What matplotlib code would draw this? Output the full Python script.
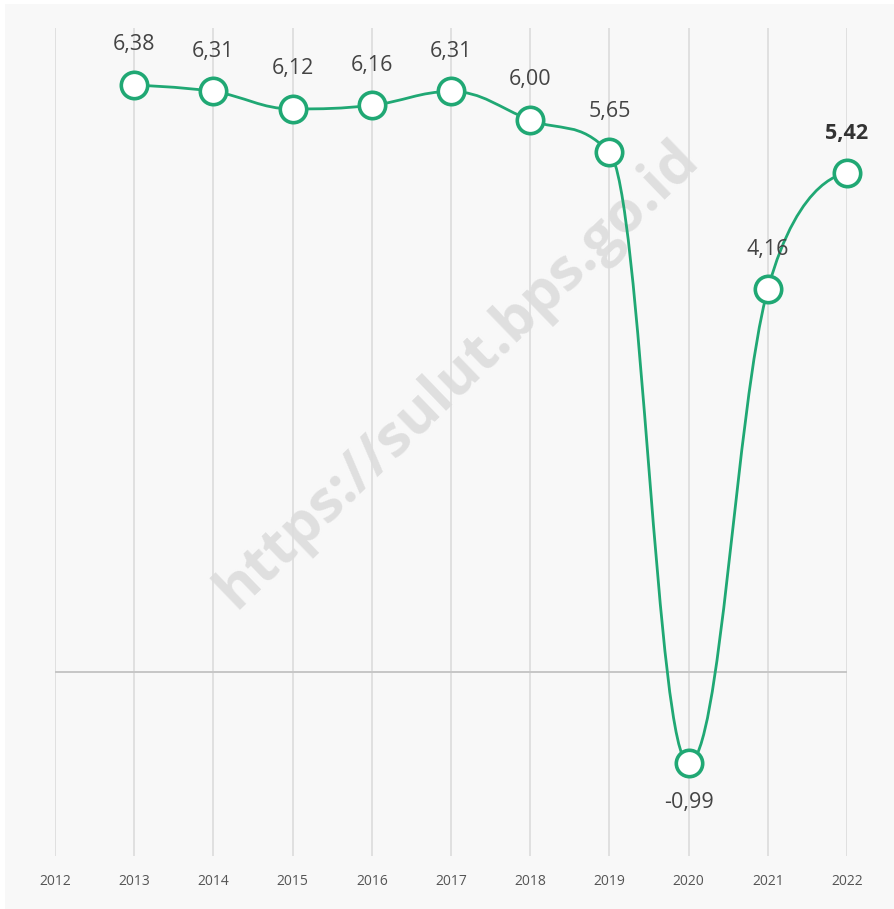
import numpy as np
import matplotlib
matplotlib.use("Agg")
import matplotlib.pyplot as plt
from matplotlib.patches import Rectangle, PathPatch
from matplotlib.path import Path

# Economic growth rate (%) by year
years = [2013, 2014, 2015, 2016, 2017, 2018, 2019, 2020, 2021, 2022]
growth = [6.38, 6.31, 6.12, 6.16, 6.31, 6.00, 5.65, -0.99, 4.16, 5.42]
tick_years = list(range(2012, 2023))
tick_labels = [str(y) for y in tick_years]
watermark = "https://sulut.bps.go.id"

GREEN = "#20a874"
plt.rcParams["font.family"] = ["Open Sans", "DejaVu Sans"]


def spline_path(x, y, smoothing=1.5):
    """Cubic Bezier spline with control points clamped to avoid false extremes."""
    n = len(x)
    denom = smoothing + 1
    right = [None] * n
    verts = [(x[0], y[0])]
    codes = [Path.MOVETO]
    for i in range(1, n):
        px, py = x[i], y[i]
        lx, ly = px, py
        if i < n - 1:
            ax_, ay_ = x[i - 1], y[i - 1]
            nx_, ny_ = x[i + 1], y[i + 1]
            lx = (smoothing * px + ax_) / denom
            ly = (smoothing * py + ay_) / denom
            rx = (smoothing * px + nx_) / denom
            ry = (smoothing * py + ny_) / denom
            corr = 0.0
            if rx != lx:
                corr = (ry - ly) * (rx - px) / (rx - lx) + py - ry
            ly += corr
            ry += corr
            if ly > ay_ and ly > py:
                ly = max(ay_, py)
                ry = 2 * py - ly
            elif ly < ay_ and ly < py:
                ly = min(ay_, py)
                ry = 2 * py - ly
            if ry > ny_ and ry > py:
                ry = max(ny_, py)
                ly = 2 * py - ry
            elif ry < ny_ and ry < py:
                ry = min(ny_, py)
                ly = 2 * py - ry
            right[i] = (rx, ry)
        c1 = right[i - 1] if right[i - 1] is not None else (x[i - 1], y[i - 1])
        verts += [c1, (lx, ly), (px, py)]
        codes += [Path.CURVE4] * 3
    return Path(verts, codes)


W, H = 894, 909
fig = plt.figure(figsize=(W / 100, H / 100), dpi=100)
fig.patch.set_facecolor("white")
fig.patches.append(Rectangle((5 / W, 0), 1 - 5 / W, 1 - 4 / H,
                             transform=fig.transFigure, facecolor="#f8f8f8",
                             edgecolor="none", zorder=-10))

ax = fig.add_axes([55 / W, 53 / H, (847 - 55) / W, (856 - 28) / H])
ax.patch.set_visible(False)
ax.set_xlim(2012, 2022)
ax.set_ylim(-2, 7)
for sp in ax.spines.values():
    sp.set_visible(False)

ax.set_axisbelow(True)
ax.grid(axis="x", color="#dcdcdc", linewidth=1.2)
ax.grid(axis="y", visible=False)
ax.set_yticks([])
ax.set_xticks(tick_years)
ax.set_xticklabels(tick_labels, fontsize=10, color="#555555")
ax.tick_params(axis="x", length=0, pad=13)

ax.axhline(0, color="#c6c6c6", linewidth=1.4, zorder=1)

ax.text(458 / W, 1 - 375 / H, watermark, transform=fig.transFigure,
        rotation=44, ha="center", va="center", fontsize=42,
        fontweight="bold", color="#dfdfdf", zorder=0)

curve = PathPatch(spline_path(years, growth), facecolor="none",
                  edgecolor=GREEN, linewidth=2.0, zorder=3, clip_on=False)
ax.add_patch(curve)
ax.plot(years, growth, linestyle="none", marker="o", markersize=19,
        markerfacecolor="white", markeredgecolor=GREEN, markeredgewidth=2.6,
        zorder=4, clip_on=False)

for i, (yr, v) in enumerate(zip(years, growth)):
    txt = f"{v:.2f}".replace(".", ",")
    last = i == len(years) - 1
    if v < 0:
        ax.annotate(txt, (yr, v), xytext=(0, -28.5), textcoords="offset points",
                    ha="center", va="center", fontsize=15.5, color="#444444")
    else:
        ax.annotate(txt, (yr, v), xytext=(0, 29), textcoords="offset points",
                    ha="center", va="center", fontsize=15.5,
                    color="#333333" if last else "#444444",
                    fontweight="bold" if last else "normal")

fig.savefig("out.png", dpi=100)
